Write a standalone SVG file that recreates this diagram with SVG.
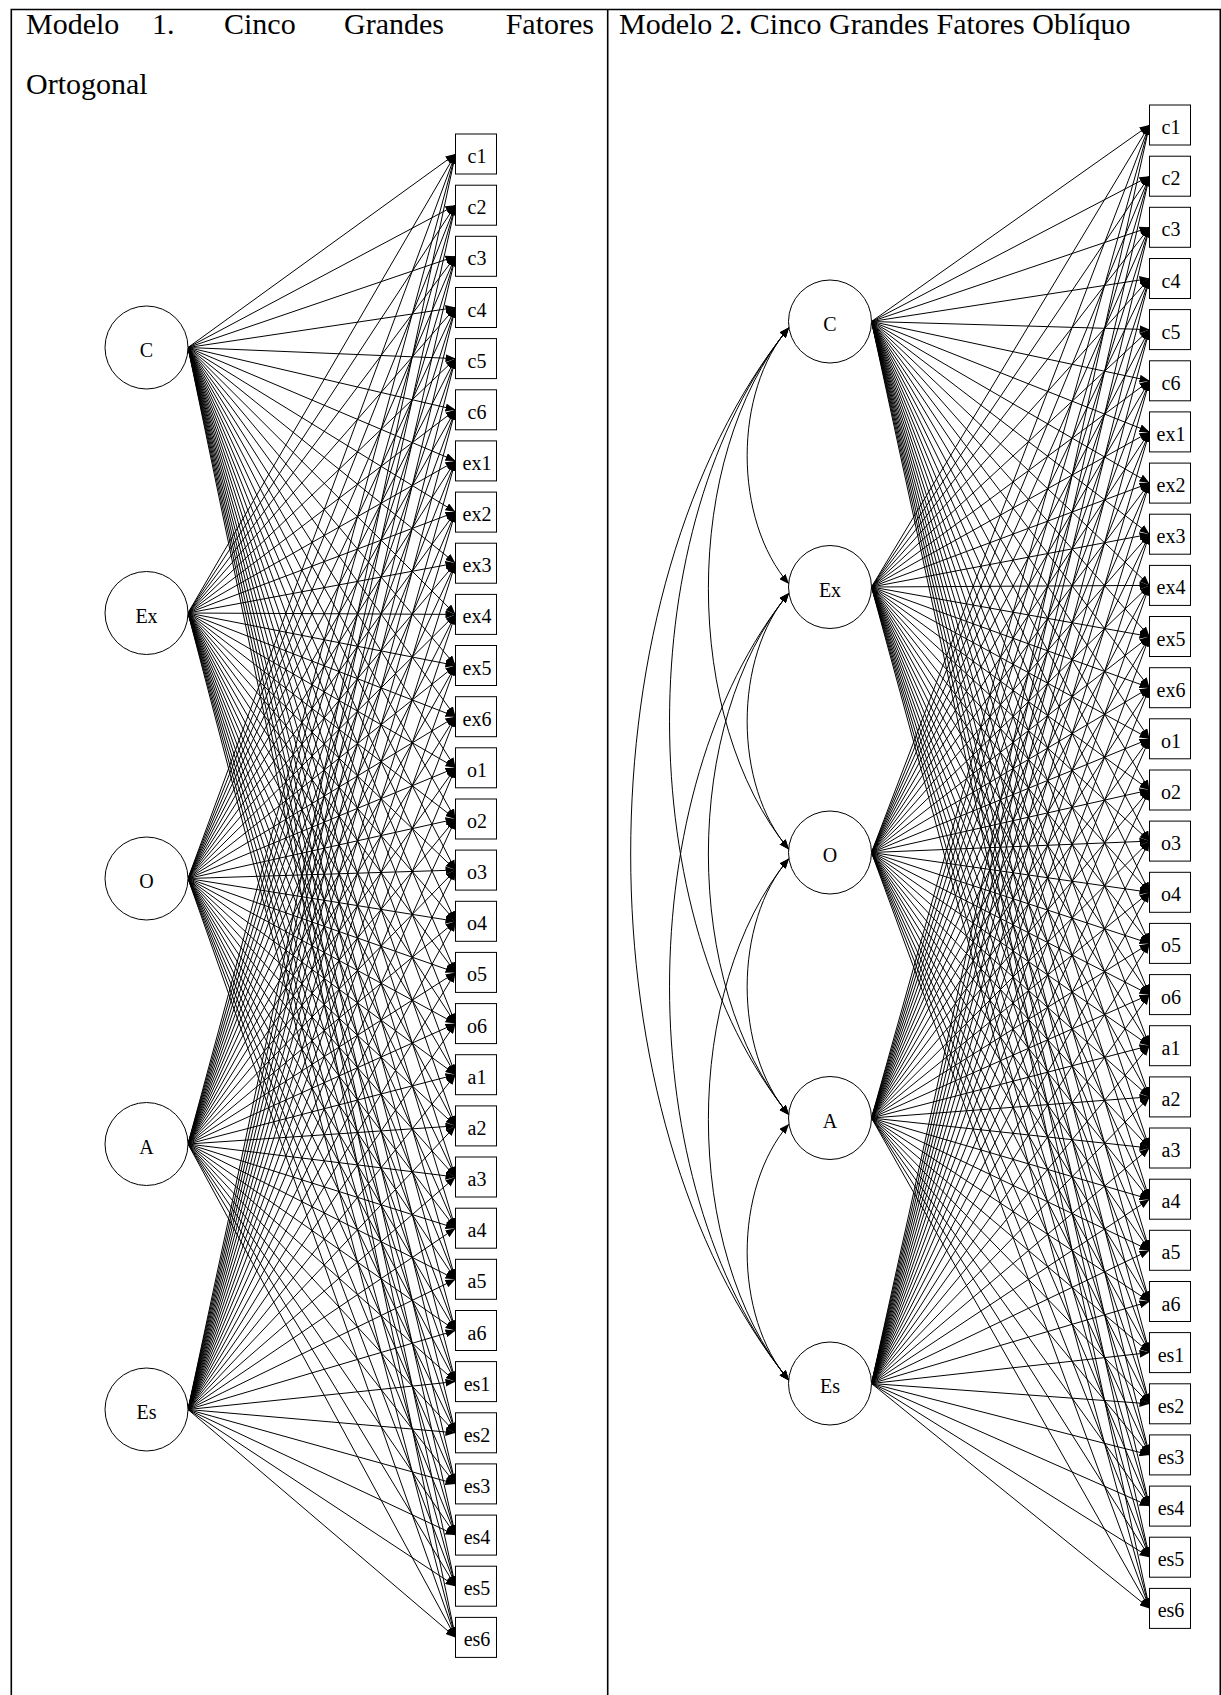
<svg xmlns="http://www.w3.org/2000/svg" width="1221" height="1695" viewBox="0 0 1221 1695">
<defs>
<style>
.bd{fill:none;stroke:#000;stroke-width:1.6}
.ttl{font-family:"Liberation Serif","Times New Roman",serif;font-size:30px;fill:#000}
.lat circle{fill:#fff;stroke:#000;stroke-width:1}
.ind rect{fill:#fff;stroke:#000;stroke-width:1}
.nl{font-family:"Liberation Serif","Times New Roman",serif;font-size:20px;text-anchor:middle;fill:#000}
.ld line{stroke:#000;stroke-width:1;marker-end:url(#ah)}
.cv path{fill:none;stroke:#000;stroke-width:1;marker-start:url(#ah2);marker-end:url(#ah2)}
</style>
<marker id="ah" viewBox="0 0 10 8" refX="10" refY="4" markerWidth="10" markerHeight="8" markerUnits="userSpaceOnUse" orient="auto"><path d="M0,0L10,4L0,8Z"/></marker>
<marker id="ah2" viewBox="0 0 10 8" refX="10" refY="4" markerWidth="10" markerHeight="8" markerUnits="userSpaceOnUse" orient="auto-start-reverse"><path d="M0,0L10,4L0,8Z"/></marker>
</defs>
<rect width="1221" height="1695" fill="#fff"/>

<!-- table frame -->
<path class="bd" d="M11.3,1695V9.5H1220.3V1695M607.7,9.5V1695"/>

<!-- cell headings -->
<text class="ttl" y="34"><tspan x="26">Modelo</tspan><tspan x="152">1.</tspan><tspan x="224">Cinco</tspan><tspan x="344">Grandes</tspan><tspan x="594" text-anchor="end">Fatores</tspan></text>
<text class="ttl" x="26" y="94">Ortogonal</text>
<text class="ttl" x="619" y="34">Modelo 2. Cinco Grandes Fatores Oblíquo</text>

<!-- Modelo 1: factor loadings -->
<g id="m1-loadings" class="ld">
<line x1="188" y1="347.5" x2="455.5" y2="154"/><line x1="188" y1="347.5" x2="455.5" y2="205.2"/><line x1="188" y1="347.5" x2="455.5" y2="256.3"/><line x1="188" y1="347.5" x2="455.5" y2="307.5"/><line x1="188" y1="347.5" x2="455.5" y2="358.6"/><line x1="188" y1="347.5" x2="455.5" y2="409.8"/>
<line x1="188" y1="347.5" x2="455.5" y2="460.9"/><line x1="188" y1="347.5" x2="455.5" y2="512.1"/><line x1="188" y1="347.5" x2="455.5" y2="563.2"/><line x1="188" y1="347.5" x2="455.5" y2="614.4"/><line x1="188" y1="347.5" x2="455.5" y2="665.5"/><line x1="188" y1="347.5" x2="455.5" y2="716.7"/>
<line x1="188" y1="347.5" x2="455.5" y2="767.8"/><line x1="188" y1="347.5" x2="455.5" y2="819"/><line x1="188" y1="347.5" x2="455.5" y2="870.1"/><line x1="188" y1="347.5" x2="455.5" y2="921.3"/><line x1="188" y1="347.5" x2="455.5" y2="972.4"/><line x1="188" y1="347.5" x2="455.5" y2="1023.6"/>
<line x1="188" y1="347.5" x2="455.5" y2="1074.7"/><line x1="188" y1="347.5" x2="455.5" y2="1125.9"/><line x1="188" y1="347.5" x2="455.5" y2="1177"/><line x1="188" y1="347.5" x2="455.5" y2="1228.2"/><line x1="188" y1="347.5" x2="455.5" y2="1279.3"/><line x1="188" y1="347.5" x2="455.5" y2="1330.5"/>
<line x1="188" y1="347.5" x2="455.5" y2="1381.6"/><line x1="188" y1="347.5" x2="455.5" y2="1432.8"/><line x1="188" y1="347.5" x2="455.5" y2="1483.9"/><line x1="188" y1="347.5" x2="455.5" y2="1535.1"/><line x1="188" y1="347.5" x2="455.5" y2="1586.2"/><line x1="188" y1="347.5" x2="455.5" y2="1637.4"/>

<line x1="188" y1="613" x2="455.5" y2="154"/><line x1="188" y1="613" x2="455.5" y2="205.2"/><line x1="188" y1="613" x2="455.5" y2="256.3"/><line x1="188" y1="613" x2="455.5" y2="307.5"/><line x1="188" y1="613" x2="455.5" y2="358.6"/><line x1="188" y1="613" x2="455.5" y2="409.8"/>
<line x1="188" y1="613" x2="455.5" y2="460.9"/><line x1="188" y1="613" x2="455.5" y2="512.1"/><line x1="188" y1="613" x2="455.5" y2="563.2"/><line x1="188" y1="613" x2="455.5" y2="614.4"/><line x1="188" y1="613" x2="455.5" y2="665.5"/><line x1="188" y1="613" x2="455.5" y2="716.7"/>
<line x1="188" y1="613" x2="455.5" y2="767.8"/><line x1="188" y1="613" x2="455.5" y2="819"/><line x1="188" y1="613" x2="455.5" y2="870.1"/><line x1="188" y1="613" x2="455.5" y2="921.3"/><line x1="188" y1="613" x2="455.5" y2="972.4"/><line x1="188" y1="613" x2="455.5" y2="1023.6"/>
<line x1="188" y1="613" x2="455.5" y2="1074.7"/><line x1="188" y1="613" x2="455.5" y2="1125.9"/><line x1="188" y1="613" x2="455.5" y2="1177"/><line x1="188" y1="613" x2="455.5" y2="1228.2"/><line x1="188" y1="613" x2="455.5" y2="1279.3"/><line x1="188" y1="613" x2="455.5" y2="1330.5"/>
<line x1="188" y1="613" x2="455.5" y2="1381.6"/><line x1="188" y1="613" x2="455.5" y2="1432.8"/><line x1="188" y1="613" x2="455.5" y2="1483.9"/><line x1="188" y1="613" x2="455.5" y2="1535.1"/><line x1="188" y1="613" x2="455.5" y2="1586.2"/><line x1="188" y1="613" x2="455.5" y2="1637.4"/>

<line x1="188" y1="878.5" x2="455.5" y2="154"/><line x1="188" y1="878.5" x2="455.5" y2="205.2"/><line x1="188" y1="878.5" x2="455.5" y2="256.3"/><line x1="188" y1="878.5" x2="455.5" y2="307.5"/><line x1="188" y1="878.5" x2="455.5" y2="358.6"/><line x1="188" y1="878.5" x2="455.5" y2="409.8"/>
<line x1="188" y1="878.5" x2="455.5" y2="460.9"/><line x1="188" y1="878.5" x2="455.5" y2="512.1"/><line x1="188" y1="878.5" x2="455.5" y2="563.2"/><line x1="188" y1="878.5" x2="455.5" y2="614.4"/><line x1="188" y1="878.5" x2="455.5" y2="665.5"/><line x1="188" y1="878.5" x2="455.5" y2="716.7"/>
<line x1="188" y1="878.5" x2="455.5" y2="767.8"/><line x1="188" y1="878.5" x2="455.5" y2="819"/><line x1="188" y1="878.5" x2="455.5" y2="870.1"/><line x1="188" y1="878.5" x2="455.5" y2="921.3"/><line x1="188" y1="878.5" x2="455.5" y2="972.4"/><line x1="188" y1="878.5" x2="455.5" y2="1023.6"/>
<line x1="188" y1="878.5" x2="455.5" y2="1074.7"/><line x1="188" y1="878.5" x2="455.5" y2="1125.9"/><line x1="188" y1="878.5" x2="455.5" y2="1177"/><line x1="188" y1="878.5" x2="455.5" y2="1228.2"/><line x1="188" y1="878.5" x2="455.5" y2="1279.3"/><line x1="188" y1="878.5" x2="455.5" y2="1330.5"/>
<line x1="188" y1="878.5" x2="455.5" y2="1381.6"/><line x1="188" y1="878.5" x2="455.5" y2="1432.8"/><line x1="188" y1="878.5" x2="455.5" y2="1483.9"/><line x1="188" y1="878.5" x2="455.5" y2="1535.1"/><line x1="188" y1="878.5" x2="455.5" y2="1586.2"/><line x1="188" y1="878.5" x2="455.5" y2="1637.4"/>

<line x1="188" y1="1144" x2="455.5" y2="154"/><line x1="188" y1="1144" x2="455.5" y2="205.2"/><line x1="188" y1="1144" x2="455.5" y2="256.3"/><line x1="188" y1="1144" x2="455.5" y2="307.5"/><line x1="188" y1="1144" x2="455.5" y2="358.6"/><line x1="188" y1="1144" x2="455.5" y2="409.8"/>
<line x1="188" y1="1144" x2="455.5" y2="460.9"/><line x1="188" y1="1144" x2="455.5" y2="512.1"/><line x1="188" y1="1144" x2="455.5" y2="563.2"/><line x1="188" y1="1144" x2="455.5" y2="614.4"/><line x1="188" y1="1144" x2="455.5" y2="665.5"/><line x1="188" y1="1144" x2="455.5" y2="716.7"/>
<line x1="188" y1="1144" x2="455.5" y2="767.8"/><line x1="188" y1="1144" x2="455.5" y2="819"/><line x1="188" y1="1144" x2="455.5" y2="870.1"/><line x1="188" y1="1144" x2="455.5" y2="921.3"/><line x1="188" y1="1144" x2="455.5" y2="972.4"/><line x1="188" y1="1144" x2="455.5" y2="1023.6"/>
<line x1="188" y1="1144" x2="455.5" y2="1074.7"/><line x1="188" y1="1144" x2="455.5" y2="1125.9"/><line x1="188" y1="1144" x2="455.5" y2="1177"/><line x1="188" y1="1144" x2="455.5" y2="1228.2"/><line x1="188" y1="1144" x2="455.5" y2="1279.3"/><line x1="188" y1="1144" x2="455.5" y2="1330.5"/>
<line x1="188" y1="1144" x2="455.5" y2="1381.6"/><line x1="188" y1="1144" x2="455.5" y2="1432.8"/><line x1="188" y1="1144" x2="455.5" y2="1483.9"/><line x1="188" y1="1144" x2="455.5" y2="1535.1"/><line x1="188" y1="1144" x2="455.5" y2="1586.2"/><line x1="188" y1="1144" x2="455.5" y2="1637.4"/>

<line x1="188" y1="1409.5" x2="455.5" y2="154"/><line x1="188" y1="1409.5" x2="455.5" y2="205.2"/><line x1="188" y1="1409.5" x2="455.5" y2="256.3"/><line x1="188" y1="1409.5" x2="455.5" y2="307.5"/><line x1="188" y1="1409.5" x2="455.5" y2="358.6"/><line x1="188" y1="1409.5" x2="455.5" y2="409.8"/>
<line x1="188" y1="1409.5" x2="455.5" y2="460.9"/><line x1="188" y1="1409.5" x2="455.5" y2="512.1"/><line x1="188" y1="1409.5" x2="455.5" y2="563.2"/><line x1="188" y1="1409.5" x2="455.5" y2="614.4"/><line x1="188" y1="1409.5" x2="455.5" y2="665.5"/><line x1="188" y1="1409.5" x2="455.5" y2="716.7"/>
<line x1="188" y1="1409.5" x2="455.5" y2="767.8"/><line x1="188" y1="1409.5" x2="455.5" y2="819"/><line x1="188" y1="1409.5" x2="455.5" y2="870.1"/><line x1="188" y1="1409.5" x2="455.5" y2="921.3"/><line x1="188" y1="1409.5" x2="455.5" y2="972.4"/><line x1="188" y1="1409.5" x2="455.5" y2="1023.6"/>
<line x1="188" y1="1409.5" x2="455.5" y2="1074.7"/><line x1="188" y1="1409.5" x2="455.5" y2="1125.9"/><line x1="188" y1="1409.5" x2="455.5" y2="1177"/><line x1="188" y1="1409.5" x2="455.5" y2="1228.2"/><line x1="188" y1="1409.5" x2="455.5" y2="1279.3"/><line x1="188" y1="1409.5" x2="455.5" y2="1330.5"/>
<line x1="188" y1="1409.5" x2="455.5" y2="1381.6"/><line x1="188" y1="1409.5" x2="455.5" y2="1432.8"/><line x1="188" y1="1409.5" x2="455.5" y2="1483.9"/><line x1="188" y1="1409.5" x2="455.5" y2="1535.1"/><line x1="188" y1="1409.5" x2="455.5" y2="1586.2"/><line x1="188" y1="1409.5" x2="455.5" y2="1637.4"/>
</g>

<!-- Modelo 2: factor loadings -->
<g id="m2-loadings" class="ld">
<line x1="871.5" y1="321.5" x2="1149.5" y2="125"/><line x1="871.5" y1="321.5" x2="1149.5" y2="176.2"/><line x1="871.5" y1="321.5" x2="1149.5" y2="227.3"/><line x1="871.5" y1="321.5" x2="1149.5" y2="278.5"/><line x1="871.5" y1="321.5" x2="1149.5" y2="329.6"/><line x1="871.5" y1="321.5" x2="1149.5" y2="380.8"/>
<line x1="871.5" y1="321.5" x2="1149.5" y2="431.9"/><line x1="871.5" y1="321.5" x2="1149.5" y2="483.1"/><line x1="871.5" y1="321.5" x2="1149.5" y2="534.2"/><line x1="871.5" y1="321.5" x2="1149.5" y2="585.4"/><line x1="871.5" y1="321.5" x2="1149.5" y2="636.5"/><line x1="871.5" y1="321.5" x2="1149.5" y2="687.7"/>
<line x1="871.5" y1="321.5" x2="1149.5" y2="738.8"/><line x1="871.5" y1="321.5" x2="1149.5" y2="790"/><line x1="871.5" y1="321.5" x2="1149.5" y2="841.1"/><line x1="871.5" y1="321.5" x2="1149.5" y2="892.3"/><line x1="871.5" y1="321.5" x2="1149.5" y2="943.4"/><line x1="871.5" y1="321.5" x2="1149.5" y2="994.6"/>
<line x1="871.5" y1="321.5" x2="1149.5" y2="1045.7"/><line x1="871.5" y1="321.5" x2="1149.5" y2="1096.9"/><line x1="871.5" y1="321.5" x2="1149.5" y2="1148"/><line x1="871.5" y1="321.5" x2="1149.5" y2="1199.2"/><line x1="871.5" y1="321.5" x2="1149.5" y2="1250.3"/><line x1="871.5" y1="321.5" x2="1149.5" y2="1301.5"/>
<line x1="871.5" y1="321.5" x2="1149.5" y2="1352.6"/><line x1="871.5" y1="321.5" x2="1149.5" y2="1403.8"/><line x1="871.5" y1="321.5" x2="1149.5" y2="1454.9"/><line x1="871.5" y1="321.5" x2="1149.5" y2="1506.1"/><line x1="871.5" y1="321.5" x2="1149.5" y2="1557.2"/><line x1="871.5" y1="321.5" x2="1149.5" y2="1608.4"/>

<line x1="871.5" y1="587" x2="1149.5" y2="125"/><line x1="871.5" y1="587" x2="1149.5" y2="176.2"/><line x1="871.5" y1="587" x2="1149.5" y2="227.3"/><line x1="871.5" y1="587" x2="1149.5" y2="278.5"/><line x1="871.5" y1="587" x2="1149.5" y2="329.6"/><line x1="871.5" y1="587" x2="1149.5" y2="380.8"/>
<line x1="871.5" y1="587" x2="1149.5" y2="431.9"/><line x1="871.5" y1="587" x2="1149.5" y2="483.1"/><line x1="871.5" y1="587" x2="1149.5" y2="534.2"/><line x1="871.5" y1="587" x2="1149.5" y2="585.4"/><line x1="871.5" y1="587" x2="1149.5" y2="636.5"/><line x1="871.5" y1="587" x2="1149.5" y2="687.7"/>
<line x1="871.5" y1="587" x2="1149.5" y2="738.8"/><line x1="871.5" y1="587" x2="1149.5" y2="790"/><line x1="871.5" y1="587" x2="1149.5" y2="841.1"/><line x1="871.5" y1="587" x2="1149.5" y2="892.3"/><line x1="871.5" y1="587" x2="1149.5" y2="943.4"/><line x1="871.5" y1="587" x2="1149.5" y2="994.6"/>
<line x1="871.5" y1="587" x2="1149.5" y2="1045.7"/><line x1="871.5" y1="587" x2="1149.5" y2="1096.9"/><line x1="871.5" y1="587" x2="1149.5" y2="1148"/><line x1="871.5" y1="587" x2="1149.5" y2="1199.2"/><line x1="871.5" y1="587" x2="1149.5" y2="1250.3"/><line x1="871.5" y1="587" x2="1149.5" y2="1301.5"/>
<line x1="871.5" y1="587" x2="1149.5" y2="1352.6"/><line x1="871.5" y1="587" x2="1149.5" y2="1403.8"/><line x1="871.5" y1="587" x2="1149.5" y2="1454.9"/><line x1="871.5" y1="587" x2="1149.5" y2="1506.1"/><line x1="871.5" y1="587" x2="1149.5" y2="1557.2"/><line x1="871.5" y1="587" x2="1149.5" y2="1608.4"/>

<line x1="871.5" y1="852.5" x2="1149.5" y2="125"/><line x1="871.5" y1="852.5" x2="1149.5" y2="176.2"/><line x1="871.5" y1="852.5" x2="1149.5" y2="227.3"/><line x1="871.5" y1="852.5" x2="1149.5" y2="278.5"/><line x1="871.5" y1="852.5" x2="1149.5" y2="329.6"/><line x1="871.5" y1="852.5" x2="1149.5" y2="380.8"/>
<line x1="871.5" y1="852.5" x2="1149.5" y2="431.9"/><line x1="871.5" y1="852.5" x2="1149.5" y2="483.1"/><line x1="871.5" y1="852.5" x2="1149.5" y2="534.2"/><line x1="871.5" y1="852.5" x2="1149.5" y2="585.4"/><line x1="871.5" y1="852.5" x2="1149.5" y2="636.5"/><line x1="871.5" y1="852.5" x2="1149.5" y2="687.7"/>
<line x1="871.5" y1="852.5" x2="1149.5" y2="738.8"/><line x1="871.5" y1="852.5" x2="1149.5" y2="790"/><line x1="871.5" y1="852.5" x2="1149.5" y2="841.1"/><line x1="871.5" y1="852.5" x2="1149.5" y2="892.3"/><line x1="871.5" y1="852.5" x2="1149.5" y2="943.4"/><line x1="871.5" y1="852.5" x2="1149.5" y2="994.6"/>
<line x1="871.5" y1="852.5" x2="1149.5" y2="1045.7"/><line x1="871.5" y1="852.5" x2="1149.5" y2="1096.9"/><line x1="871.5" y1="852.5" x2="1149.5" y2="1148"/><line x1="871.5" y1="852.5" x2="1149.5" y2="1199.2"/><line x1="871.5" y1="852.5" x2="1149.5" y2="1250.3"/><line x1="871.5" y1="852.5" x2="1149.5" y2="1301.5"/>
<line x1="871.5" y1="852.5" x2="1149.5" y2="1352.6"/><line x1="871.5" y1="852.5" x2="1149.5" y2="1403.8"/><line x1="871.5" y1="852.5" x2="1149.5" y2="1454.9"/><line x1="871.5" y1="852.5" x2="1149.5" y2="1506.1"/><line x1="871.5" y1="852.5" x2="1149.5" y2="1557.2"/><line x1="871.5" y1="852.5" x2="1149.5" y2="1608.4"/>

<line x1="871.5" y1="1118" x2="1149.5" y2="125"/><line x1="871.5" y1="1118" x2="1149.5" y2="176.2"/><line x1="871.5" y1="1118" x2="1149.5" y2="227.3"/><line x1="871.5" y1="1118" x2="1149.5" y2="278.5"/><line x1="871.5" y1="1118" x2="1149.5" y2="329.6"/><line x1="871.5" y1="1118" x2="1149.5" y2="380.8"/>
<line x1="871.5" y1="1118" x2="1149.5" y2="431.9"/><line x1="871.5" y1="1118" x2="1149.5" y2="483.1"/><line x1="871.5" y1="1118" x2="1149.5" y2="534.2"/><line x1="871.5" y1="1118" x2="1149.5" y2="585.4"/><line x1="871.5" y1="1118" x2="1149.5" y2="636.5"/><line x1="871.5" y1="1118" x2="1149.5" y2="687.7"/>
<line x1="871.5" y1="1118" x2="1149.5" y2="738.8"/><line x1="871.5" y1="1118" x2="1149.5" y2="790"/><line x1="871.5" y1="1118" x2="1149.5" y2="841.1"/><line x1="871.5" y1="1118" x2="1149.5" y2="892.3"/><line x1="871.5" y1="1118" x2="1149.5" y2="943.4"/><line x1="871.5" y1="1118" x2="1149.5" y2="994.6"/>
<line x1="871.5" y1="1118" x2="1149.5" y2="1045.7"/><line x1="871.5" y1="1118" x2="1149.5" y2="1096.9"/><line x1="871.5" y1="1118" x2="1149.5" y2="1148"/><line x1="871.5" y1="1118" x2="1149.5" y2="1199.2"/><line x1="871.5" y1="1118" x2="1149.5" y2="1250.3"/><line x1="871.5" y1="1118" x2="1149.5" y2="1301.5"/>
<line x1="871.5" y1="1118" x2="1149.5" y2="1352.6"/><line x1="871.5" y1="1118" x2="1149.5" y2="1403.8"/><line x1="871.5" y1="1118" x2="1149.5" y2="1454.9"/><line x1="871.5" y1="1118" x2="1149.5" y2="1506.1"/><line x1="871.5" y1="1118" x2="1149.5" y2="1557.2"/><line x1="871.5" y1="1118" x2="1149.5" y2="1608.4"/>

<line x1="871.5" y1="1383.5" x2="1149.5" y2="125"/><line x1="871.5" y1="1383.5" x2="1149.5" y2="176.2"/><line x1="871.5" y1="1383.5" x2="1149.5" y2="227.3"/><line x1="871.5" y1="1383.5" x2="1149.5" y2="278.5"/><line x1="871.5" y1="1383.5" x2="1149.5" y2="329.6"/><line x1="871.5" y1="1383.5" x2="1149.5" y2="380.8"/>
<line x1="871.5" y1="1383.5" x2="1149.5" y2="431.9"/><line x1="871.5" y1="1383.5" x2="1149.5" y2="483.1"/><line x1="871.5" y1="1383.5" x2="1149.5" y2="534.2"/><line x1="871.5" y1="1383.5" x2="1149.5" y2="585.4"/><line x1="871.5" y1="1383.5" x2="1149.5" y2="636.5"/><line x1="871.5" y1="1383.5" x2="1149.5" y2="687.7"/>
<line x1="871.5" y1="1383.5" x2="1149.5" y2="738.8"/><line x1="871.5" y1="1383.5" x2="1149.5" y2="790"/><line x1="871.5" y1="1383.5" x2="1149.5" y2="841.1"/><line x1="871.5" y1="1383.5" x2="1149.5" y2="892.3"/><line x1="871.5" y1="1383.5" x2="1149.5" y2="943.4"/><line x1="871.5" y1="1383.5" x2="1149.5" y2="994.6"/>
<line x1="871.5" y1="1383.5" x2="1149.5" y2="1045.7"/><line x1="871.5" y1="1383.5" x2="1149.5" y2="1096.9"/><line x1="871.5" y1="1383.5" x2="1149.5" y2="1148"/><line x1="871.5" y1="1383.5" x2="1149.5" y2="1199.2"/><line x1="871.5" y1="1383.5" x2="1149.5" y2="1250.3"/><line x1="871.5" y1="1383.5" x2="1149.5" y2="1301.5"/>
<line x1="871.5" y1="1383.5" x2="1149.5" y2="1352.6"/><line x1="871.5" y1="1383.5" x2="1149.5" y2="1403.8"/><line x1="871.5" y1="1383.5" x2="1149.5" y2="1454.9"/><line x1="871.5" y1="1383.5" x2="1149.5" y2="1506.1"/><line x1="871.5" y1="1383.5" x2="1149.5" y2="1557.2"/><line x1="871.5" y1="1383.5" x2="1149.5" y2="1608.4"/>
</g>

<!-- Modelo 2: factor covariances -->
<g id="m2-covariances" class="cv">
<path d="M789,327.5C733.2,391.6 733.2,519.9 789,584"/>
<path d="M789,327.5C681.5,458 681.5,719 789,849.5"/>
<path d="M789,327.5C629.7,524.4 629.7,918.1 789,1115"/>
<path d="M789,327.5C577.9,590.8 577.9,1117.2 789,1380.5"/>
<path d="M789,593C733.2,657.1 733.2,785.4 789,849.5"/>
<path d="M789,593C681.5,723.5 681.5,984.5 789,1115"/>
<path d="M789,593C629.7,789.9 629.7,1183.6 789,1380.5"/>
<path d="M789,858.5C733.2,922.6 733.2,1050.9 789,1115"/>
<path d="M789,858.5C681.5,989 681.5,1250 789,1380.5"/>
<path d="M789,1124C733.2,1188.1 733.2,1316.4 789,1380.5"/>
</g>

<!-- Modelo 1: latent factors -->
<g id="m1-C" class="lat"><circle cx="146.5" cy="347.5" r="41.5"/><text class="nl" x="146.5" y="357">C</text></g>
<g id="m1-Ex" class="lat"><circle cx="146.5" cy="613" r="41.5"/><text class="nl" x="146.5" y="622.5">Ex</text></g>
<g id="m1-O" class="lat"><circle cx="146.5" cy="878.5" r="41.5"/><text class="nl" x="146.5" y="888">O</text></g>
<g id="m1-A" class="lat"><circle cx="146.5" cy="1144" r="41.5"/><text class="nl" x="146.5" y="1153.5">A</text></g>
<g id="m1-Es" class="lat"><circle cx="146.5" cy="1409.5" r="41.5"/><text class="nl" x="146.5" y="1419">Es</text></g>

<!-- Modelo 1: observed items -->
<g id="m1-c1" class="ind"><rect x="455.5" y="134" width="41" height="40"/><text class="nl" x="477" y="163">c1</text></g>
<g id="m1-c2" class="ind"><rect x="455.5" y="185.2" width="41" height="40"/><text class="nl" x="477" y="214.2">c2</text></g>
<g id="m1-c3" class="ind"><rect x="455.5" y="236.3" width="41" height="40"/><text class="nl" x="477" y="265.3">c3</text></g>
<g id="m1-c4" class="ind"><rect x="455.5" y="287.5" width="41" height="40"/><text class="nl" x="477" y="316.5">c4</text></g>
<g id="m1-c5" class="ind"><rect x="455.5" y="338.6" width="41" height="40"/><text class="nl" x="477" y="367.6">c5</text></g>
<g id="m1-c6" class="ind"><rect x="455.5" y="389.8" width="41" height="40"/><text class="nl" x="477" y="418.8">c6</text></g>
<g id="m1-ex1" class="ind"><rect x="455.5" y="440.9" width="41" height="40"/><text class="nl" x="477" y="469.9">ex1</text></g>
<g id="m1-ex2" class="ind"><rect x="455.5" y="492.1" width="41" height="40"/><text class="nl" x="477" y="521.1">ex2</text></g>
<g id="m1-ex3" class="ind"><rect x="455.5" y="543.2" width="41" height="40"/><text class="nl" x="477" y="572.2">ex3</text></g>
<g id="m1-ex4" class="ind"><rect x="455.5" y="594.4" width="41" height="40"/><text class="nl" x="477" y="623.4">ex4</text></g>
<g id="m1-ex5" class="ind"><rect x="455.5" y="645.5" width="41" height="40"/><text class="nl" x="477" y="674.5">ex5</text></g>
<g id="m1-ex6" class="ind"><rect x="455.5" y="696.7" width="41" height="40"/><text class="nl" x="477" y="725.7">ex6</text></g>
<g id="m1-o1" class="ind"><rect x="455.5" y="747.8" width="41" height="40"/><text class="nl" x="477" y="776.8">o1</text></g>
<g id="m1-o2" class="ind"><rect x="455.5" y="799" width="41" height="40"/><text class="nl" x="477" y="828">o2</text></g>
<g id="m1-o3" class="ind"><rect x="455.5" y="850.1" width="41" height="40"/><text class="nl" x="477" y="879.1">o3</text></g>
<g id="m1-o4" class="ind"><rect x="455.5" y="901.3" width="41" height="40"/><text class="nl" x="477" y="930.3">o4</text></g>
<g id="m1-o5" class="ind"><rect x="455.5" y="952.4" width="41" height="40"/><text class="nl" x="477" y="981.4">o5</text></g>
<g id="m1-o6" class="ind"><rect x="455.5" y="1003.6" width="41" height="40"/><text class="nl" x="477" y="1032.6">o6</text></g>
<g id="m1-a1" class="ind"><rect x="455.5" y="1054.7" width="41" height="40"/><text class="nl" x="477" y="1083.7">a1</text></g>
<g id="m1-a2" class="ind"><rect x="455.5" y="1105.9" width="41" height="40"/><text class="nl" x="477" y="1134.9">a2</text></g>
<g id="m1-a3" class="ind"><rect x="455.5" y="1157" width="41" height="40"/><text class="nl" x="477" y="1186">a3</text></g>
<g id="m1-a4" class="ind"><rect x="455.5" y="1208.2" width="41" height="40"/><text class="nl" x="477" y="1237.2">a4</text></g>
<g id="m1-a5" class="ind"><rect x="455.5" y="1259.3" width="41" height="40"/><text class="nl" x="477" y="1288.3">a5</text></g>
<g id="m1-a6" class="ind"><rect x="455.5" y="1310.5" width="41" height="40"/><text class="nl" x="477" y="1339.5">a6</text></g>
<g id="m1-es1" class="ind"><rect x="455.5" y="1361.6" width="41" height="40"/><text class="nl" x="477" y="1390.6">es1</text></g>
<g id="m1-es2" class="ind"><rect x="455.5" y="1412.8" width="41" height="40"/><text class="nl" x="477" y="1441.8">es2</text></g>
<g id="m1-es3" class="ind"><rect x="455.5" y="1463.9" width="41" height="40"/><text class="nl" x="477" y="1492.9">es3</text></g>
<g id="m1-es4" class="ind"><rect x="455.5" y="1515.1" width="41" height="40"/><text class="nl" x="477" y="1544.1">es4</text></g>
<g id="m1-es5" class="ind"><rect x="455.5" y="1566.2" width="41" height="40"/><text class="nl" x="477" y="1595.2">es5</text></g>
<g id="m1-es6" class="ind"><rect x="455.5" y="1617.4" width="41" height="40"/><text class="nl" x="477" y="1646.4">es6</text></g>

<!-- Modelo 2: latent factors -->
<g id="m2-C" class="lat"><circle cx="830" cy="321.5" r="41.5"/><text class="nl" x="830" y="331">C</text></g>
<g id="m2-Ex" class="lat"><circle cx="830" cy="587" r="41.5"/><text class="nl" x="830" y="596.5">Ex</text></g>
<g id="m2-O" class="lat"><circle cx="830" cy="852.5" r="41.5"/><text class="nl" x="830" y="862">O</text></g>
<g id="m2-A" class="lat"><circle cx="830" cy="1118" r="41.5"/><text class="nl" x="830" y="1127.5">A</text></g>
<g id="m2-Es" class="lat"><circle cx="830" cy="1383.5" r="41.5"/><text class="nl" x="830" y="1393">Es</text></g>

<!-- Modelo 2: observed items -->
<g id="m2-c1" class="ind"><rect x="1149.5" y="105" width="41" height="40"/><text class="nl" x="1171" y="134">c1</text></g>
<g id="m2-c2" class="ind"><rect x="1149.5" y="156.2" width="41" height="40"/><text class="nl" x="1171" y="185.2">c2</text></g>
<g id="m2-c3" class="ind"><rect x="1149.5" y="207.3" width="41" height="40"/><text class="nl" x="1171" y="236.3">c3</text></g>
<g id="m2-c4" class="ind"><rect x="1149.5" y="258.5" width="41" height="40"/><text class="nl" x="1171" y="287.5">c4</text></g>
<g id="m2-c5" class="ind"><rect x="1149.5" y="309.6" width="41" height="40"/><text class="nl" x="1171" y="338.6">c5</text></g>
<g id="m2-c6" class="ind"><rect x="1149.5" y="360.8" width="41" height="40"/><text class="nl" x="1171" y="389.8">c6</text></g>
<g id="m2-ex1" class="ind"><rect x="1149.5" y="411.9" width="41" height="40"/><text class="nl" x="1171" y="440.9">ex1</text></g>
<g id="m2-ex2" class="ind"><rect x="1149.5" y="463.1" width="41" height="40"/><text class="nl" x="1171" y="492.1">ex2</text></g>
<g id="m2-ex3" class="ind"><rect x="1149.5" y="514.2" width="41" height="40"/><text class="nl" x="1171" y="543.2">ex3</text></g>
<g id="m2-ex4" class="ind"><rect x="1149.5" y="565.4" width="41" height="40"/><text class="nl" x="1171" y="594.4">ex4</text></g>
<g id="m2-ex5" class="ind"><rect x="1149.5" y="616.5" width="41" height="40"/><text class="nl" x="1171" y="645.5">ex5</text></g>
<g id="m2-ex6" class="ind"><rect x="1149.5" y="667.7" width="41" height="40"/><text class="nl" x="1171" y="696.7">ex6</text></g>
<g id="m2-o1" class="ind"><rect x="1149.5" y="718.8" width="41" height="40"/><text class="nl" x="1171" y="747.8">o1</text></g>
<g id="m2-o2" class="ind"><rect x="1149.5" y="770" width="41" height="40"/><text class="nl" x="1171" y="799">o2</text></g>
<g id="m2-o3" class="ind"><rect x="1149.5" y="821.1" width="41" height="40"/><text class="nl" x="1171" y="850.1">o3</text></g>
<g id="m2-o4" class="ind"><rect x="1149.5" y="872.3" width="41" height="40"/><text class="nl" x="1171" y="901.3">o4</text></g>
<g id="m2-o5" class="ind"><rect x="1149.5" y="923.4" width="41" height="40"/><text class="nl" x="1171" y="952.4">o5</text></g>
<g id="m2-o6" class="ind"><rect x="1149.5" y="974.6" width="41" height="40"/><text class="nl" x="1171" y="1003.6">o6</text></g>
<g id="m2-a1" class="ind"><rect x="1149.5" y="1025.7" width="41" height="40"/><text class="nl" x="1171" y="1054.7">a1</text></g>
<g id="m2-a2" class="ind"><rect x="1149.5" y="1076.9" width="41" height="40"/><text class="nl" x="1171" y="1105.9">a2</text></g>
<g id="m2-a3" class="ind"><rect x="1149.5" y="1128" width="41" height="40"/><text class="nl" x="1171" y="1157">a3</text></g>
<g id="m2-a4" class="ind"><rect x="1149.5" y="1179.2" width="41" height="40"/><text class="nl" x="1171" y="1208.2">a4</text></g>
<g id="m2-a5" class="ind"><rect x="1149.5" y="1230.3" width="41" height="40"/><text class="nl" x="1171" y="1259.3">a5</text></g>
<g id="m2-a6" class="ind"><rect x="1149.5" y="1281.5" width="41" height="40"/><text class="nl" x="1171" y="1310.5">a6</text></g>
<g id="m2-es1" class="ind"><rect x="1149.5" y="1332.6" width="41" height="40"/><text class="nl" x="1171" y="1361.6">es1</text></g>
<g id="m2-es2" class="ind"><rect x="1149.5" y="1383.8" width="41" height="40"/><text class="nl" x="1171" y="1412.8">es2</text></g>
<g id="m2-es3" class="ind"><rect x="1149.5" y="1434.9" width="41" height="40"/><text class="nl" x="1171" y="1463.9">es3</text></g>
<g id="m2-es4" class="ind"><rect x="1149.5" y="1486.1" width="41" height="40"/><text class="nl" x="1171" y="1515.1">es4</text></g>
<g id="m2-es5" class="ind"><rect x="1149.5" y="1537.2" width="41" height="40"/><text class="nl" x="1171" y="1566.2">es5</text></g>
<g id="m2-es6" class="ind"><rect x="1149.5" y="1588.4" width="41" height="40"/><text class="nl" x="1171" y="1617.4">es6</text></g>
</svg>
